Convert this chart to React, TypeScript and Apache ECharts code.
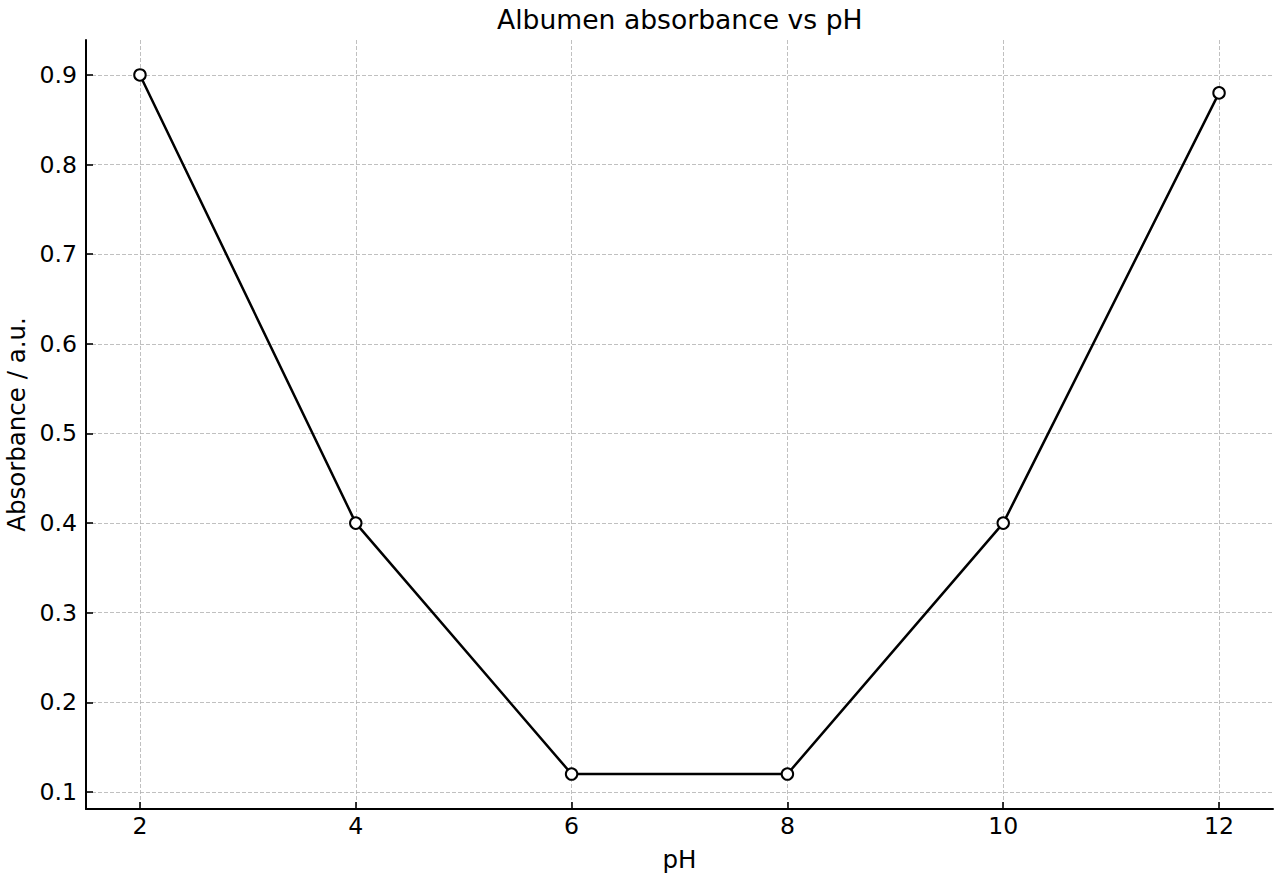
import React, { useEffect, useRef } from "react";
import * as echarts from "echarts";

const titleText = "Albumen absorbance vs pH";
const xName = "pH";
const yName = "Absorbance / a.u.";
const phValues = [2, 4, 6, 8, 10, 12];
const absorbance = [0.9, 0.4, 0.12, 0.12, 0.4, 0.88];
const xTicks = [2, 4, 6, 8, 10, 12];
const yTicks = [0.1, 0.2, 0.3, 0.4, 0.5, 0.6, 0.7, 0.8, 0.9];

const FONT = "DejaVu Sans";

export default function App() {
  const ref = useRef<HTMLDivElement>(null);
  useEffect(() => {
    if (!ref.current) return;
    const chart = echarts.init(ref.current, null, { renderer: "svg" });
    const splitLine = {
      show: true,
      lineStyle: { color: "#b0b0b0", width: 0.8, type: [4, 2] as any },
    };
    chart.setOption({
      animation: false,
      backgroundColor: "#ffffff",
      title: {
        text: titleText,
        left: 492,
        top: 1,
        textStyle: { fontFamily: FONT, fontSize: 26.6, fontWeight: "normal", color: "#000" },
      },
      grid: { left: 86, right: 7, top: 40, bottom: 71, containLabel: false, outerBoundsMode: "none" },
      xAxis: {
        type: "value",
        min: 1.5,
        max: 12.5,
        name: xName,
        nameLocation: "middle",
        nameGap: 38,
        nameTextStyle: { fontFamily: FONT, fontSize: 24.5, color: "#000" },
        axisLine: { show: true, onZero: false, lineStyle: { color: "#000", width: 2 } },
        axisTick: { show: true, inside: true, length: 7, customValues: xTicks, lineStyle: { color: "#000", width: 1.6 } },
        axisLabel: { customValues: xTicks, fontFamily: FONT, fontSize: 23.6, color: "#000", margin: 5 },
        splitLine,
      },
      yAxis: {
        type: "value",
        min: 0.081,
        max: 0.939,
        name: yName,
        nameLocation: "middle",
        nameGap: 56,
        nameTextStyle: { fontFamily: FONT, fontSize: 24.5, color: "#000" },
        axisLine: { show: true, onZero: false, lineStyle: { color: "#000", width: 2 } },
        axisTick: { show: true, inside: true, length: 7, customValues: yTicks, lineStyle: { color: "#000", width: 1.6 } },
        axisLabel: {
          customValues: yTicks,
          fontFamily: FONT,
          fontSize: 23.6,
          color: "#000",
          margin: 9,
          formatter: (v: number) => v.toFixed(1),
        },
        splitLine,
      },
      series: [
        {
          type: "line",
          data: phValues.map((x, i) => [x, absorbance[i]]),
          symbol: "circle",
          symbolSize: 11.5,
          lineStyle: { color: "#000", width: 2.5 },
          itemStyle: { color: "#fff", borderColor: "#000", borderWidth: 2 },
        },
      ],
    });
    return () => chart.dispose();
  }, []);
  return (
    <div
      ref={ref}
      style={{ position: "fixed", left: 0, top: 0, width: 1280, height: 880 }}
    />
  );
}
